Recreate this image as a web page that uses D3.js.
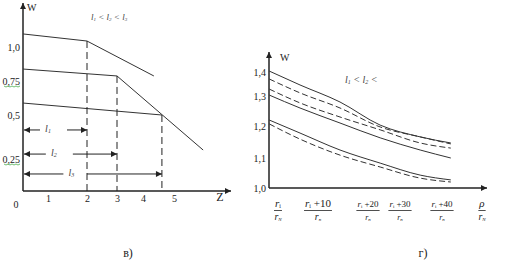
<!DOCTYPE html>
<html>
<head>
<meta charset="utf-8">
<script src="https://cdn.jsdelivr.net/npm/d3@7"></script>
<style>
  body { margin: 0; background: #fff; }
  svg text { font-family: "Liberation Serif", "DejaVu Serif", serif; }
</style>
</head>
<body>
<svg id="chart" width="508" height="264"></svg>
<script>
// ---- left panel (в): W vs Z ----
const zTicks = [1, 2, 3, 4, 5];
const wTicks = [0.25, 0.5, 0.75, 1.0];
const wTickLabels = ["0,25", "0,5", "0,75", "1,0"];
const curveL1 = [[0, 1.096], [2, 1.044], [4.35, 0.787]];
const curveL2 = [[0, 0.838], [3, 0.787], [5.94, 0.301]];
const curveL3 = [[0, 0.588], [4.61, 0.5]];
const breakZ = [2, 3, 4.61];
const breakW = [1.044, 0.787, 0.5];
const spanW = [0.415, 0.278, 0.133];
const spanNames = ["1", "2", "3"];
const spanLabelZ = [1, 1.15, 1.6];

// ---- right panel (г): W vs rho/rN ----
const rhoX = [-2.2, 5.5, 14.4, 23.8, 34.8, 42.2];
const solidA = [1.404, 1.346, 1.28, 1.203, 1.166, 1.147];
const dashB = [1.371, 1.313, 1.26, 1.197, 1.166, 1.144];
const dashC = [1.329, 1.277, 1.23, 1.188, 1.147, 1.131];
const solidD = [1.304, 1.26, 1.21, 1.163, 1.125, 1.1];
const solidE = [1.22, 1.178, 1.125, 1.083, 1.043, 1.027];
const dashF = [1.207, 1.159, 1.109, 1.07, 1.033, 1.02];
const rTicks = [1.0, 1.1, 1.2, 1.3, 1.4];
const rTickLabels = ["1,0", "1,1", "1,2", "1,3", "1,4"];
const rhoTicks = [0, 10, 20, 30, 40];
const rhoNums = ["", "+10", "+20", "+30", "+40"];

const svg = d3.select("#chart");
const ink = "#222";

// arrow markers
const defs = svg.append("defs");
defs.append("marker")
  .attr("id", "arr").attr("viewBox", "0 0 10 10")
  .attr("refX", 10).attr("refY", 5)
  .attr("markerWidth", 7).attr("markerHeight", 6)
  .attr("markerUnits", "userSpaceOnUse")
  .attr("orient", "auto-start-reverse")
  .append("path").attr("d", "M0,0L10,5L0,10z").attr("fill", ink);

// hand drawn axes -> piecewise scales
const xL = d3.scaleLinear().domain([0, 1, 2, 3, 4, 5]).range([23, 48, 87, 117, 143, 174]);
const yL = d3.scaleLinear().domain([0, 0.25, 0.5, 0.75, 1.0]).range([191, 159, 115, 81, 47]);
const xR = d3.scaleLinear().domain([0, 10, 20, 30, 40, 50]).range([278, 318, 368, 400, 442, 482]);
const yR = d3.scaleLinear().domain([1.0, 1.1, 1.2, 1.3, 1.4]).range([188, 158, 126, 96, 72]);

// ===== left panel =====
const gL = svg.append("g");

gL.append("line")
  .attr("x1", xL(0)).attr("y1", yL(0)).attr("x2", xL(0)).attr("y2", 3)
  .attr("stroke", ink).attr("stroke-width", 1.5).attr("marker-end", "url(#arr)");
gL.append("line")
  .attr("x1", xL(0)).attr("y1", yL(0)).attr("x2", 231).attr("y2", yL(0))
  .attr("stroke", ink).attr("stroke-width", 1.5).attr("marker-end", "url(#arr)");

const axL = gL.append("g")
  .attr("transform", `translate(${xL(0)},0)`)
  .call(d3.axisLeft(yL).tickValues(wTicks).tickSize(0).tickPadding(3)
    .tickFormat((d, i) => wTickLabels[i]));
axL.attr("font-family", null).attr("font-size", null);
axL.select(".domain").remove();
axL.selectAll("text").attr("font-size", 10).attr("fill", ink);

// green spell-check underline in the source
[0.25, 0.75].forEach(v => {
  gL.append("path")
    .attr("d", `M4,${yL(v) + 5}` + d3.range(8).map(i => `l2,${i % 2 ? -1 : 1}`).join(""))
    .attr("fill", "none").attr("stroke", "#4caf50").attr("stroke-width", 0.8);
});

const axB = gL.append("g")
  .attr("transform", `translate(0,${yL(0)})`)
  .call(d3.axisBottom(xL).tickValues(zTicks).tickSize(0).tickPadding(4).tickFormat(d3.format("d")));
axB.attr("font-family", null).attr("font-size", null);
axB.select(".domain").remove();
axB.selectAll("text").attr("font-size", 10).attr("fill", ink);

gL.append("text").attr("x", 16).attr("y", 208).attr("font-size", 10)
  .attr("text-anchor", "middle").attr("fill", ink).text("0");
gL.append("text").attr("x", 220).attr("y", 201).attr("font-size", 12)
  .attr("text-anchor", "middle").attr("fill", ink).text("Z");
gL.append("text").attr("x", 27).attr("y", 11).attr("font-size", 10).attr("fill", ink).text("W");

const lineL = d3.line().x(d => xL(d[0])).y(d => yL(d[1]));
[curveL1, curveL2, curveL3].forEach(c => {
  gL.append("path").attr("d", lineL(c))
    .attr("fill", "none").attr("stroke", "#333").attr("stroke-width", 1);
});

breakZ.forEach((z, i) => {
  gL.append("line")
    .attr("x1", xL(z)).attr("x2", xL(z)).attr("y1", yL(breakW[i])).attr("y2", yL(0))
    .attr("stroke", ink).attr("stroke-width", 1).attr("stroke-dasharray", "7,4");
});

// l1, l2, l3 dimension arrows
spanW.forEach((w, i) => {
  const y = yL(w), lx = xL(spanLabelZ[i]);
  const rightStart = i === 2 ? xL(2) : lx + 19;
  gL.append("line").attr("x1", lx - 8).attr("x2", xL(0) + 1).attr("y1", y).attr("y2", y)
    .attr("stroke", ink).attr("stroke-width", 1).attr("marker-end", "url(#arr)");
  gL.append("line").attr("x1", rightStart).attr("x2", xL(breakZ[i])).attr("y1", y).attr("y2", y)
    .attr("stroke", ink).attr("stroke-width", 1).attr("marker-end", "url(#arr)");
  const t = gL.append("text").attr("x", lx).attr("y", y + 2).attr("font-size", 10)
    .attr("font-style", "italic").attr("text-anchor", "middle").attr("fill", "#444");
  t.append("tspan").text("l");
  t.append("tspan").attr("font-size", 6).attr("dy", 1).text(spanNames[i]);
});

const ttl = gL.append("text").attr("x", 91).attr("y", 20).attr("font-size", 9)
  .attr("font-style", "italic").attr("fill", "#444");
ttl.append("tspan").text("l");
ttl.append("tspan").attr("font-size", 5).attr("dy", 1).text("1");
ttl.append("tspan").attr("dy", -1).text(" < l");
ttl.append("tspan").attr("font-size", 5).attr("dy", 1).text("2");
ttl.append("tspan").attr("dy", -1).text(" < l");
ttl.append("tspan").attr("font-size", 5).attr("dy", 1).text("3");

gL.append("text").attr("x", 128).attr("y", 257).attr("font-size", 12)
  .attr("text-anchor", "middle").attr("fill", ink).text("в)");

// ===== right panel =====
const gR = svg.append("g");

gR.append("line")
  .attr("x1", xR.range()[0] - 9).attr("y1", yR(1.0)).attr("x2", xR.range()[0] - 9).attr("y2", 52)
  .attr("stroke", ink).attr("stroke-width", 1.5).attr("marker-end", "url(#arr)");
gR.append("line")
  .attr("x1", xR.range()[0] - 9).attr("y1", yR(1.0)).attr("x2", 487).attr("y2", yR(1.0))
  .attr("stroke", ink).attr("stroke-width", 1.5).attr("marker-end", "url(#arr)");

const axR = gR.append("g")
  .attr("transform", `translate(${xR(0) - 9},0)`)
  .call(d3.axisLeft(yR).tickValues(rTicks).tickSize(0).tickPadding(3)
    .tickFormat((d, i) => rTickLabels[i]));
axR.attr("font-family", null).attr("font-size", null);
axR.select(".domain").remove();
axR.selectAll("text").attr("font-size", 10).attr("fill", ink);

gR.append("text").attr("x", 280).attr("y", 61).attr("font-size", 10).attr("fill", ink).text("W");

const lineR = d3.line().x((d, i) => xR(rhoX[i])).y(d => yR(d)).curve(d3.curveMonotoneX);
[[solidA, null], [dashB, "6,3"], [dashC, "6,3"], [solidD, null], [solidE, null], [dashF, "6,3"]]
  .forEach(([s, dash]) => {
    gR.append("path").attr("d", lineR(s))
      .attr("fill", "none").attr("stroke", "#333").attr("stroke-width", 1)
      .attr("stroke-dasharray", dash);
  });

const ttlR = gR.append("text").attr("x", 345).attr("y", 83).attr("font-size", 10)
  .attr("font-style", "italic").attr("fill", "#444");
ttlR.append("tspan").text("l");
ttlR.append("tspan").attr("font-size", 6).attr("dy", 1).text("1");
ttlR.append("tspan").attr("dy", -1).text(" < l");
ttlR.append("tspan").attr("font-size", 6).attr("dy", 1).text("2");
ttlR.append("tspan").attr("dy", -1).text(" <");

// fraction labels under the x axis
const frac = gR.selectAll(".frac").data(rhoTicks.concat([50])).enter().append("g")
  .attr("class", "frac").attr("transform", d => `translate(${xR(d)},0)`);
frac.each(function(d, i) {
  const g = d3.select(this);
  const isRho = i === rhoTicks.length;
  const small = i >= 2 && !isRho;
  const num = g.append("text").attr("y", 207).attr("text-anchor", "middle")
    .attr("font-size", small ? 9 : 11).attr("fill", ink);
  if (isRho) {
    num.append("tspan").attr("font-style", "italic").text("ρ");
  } else {
    num.append("tspan").attr("font-style", "italic").text("r");
    num.append("tspan").attr("font-size", small ? 5 : 6).attr("dy", 1).text("i");
    if (rhoNums[i]) num.append("tspan").attr("dy", -1).text(" " + rhoNums[i]);
  }
  const w = num.node().getComputedTextLength();
  g.append("line").attr("x1", -w / 2 - 1).attr("x2", w / 2 + 1).attr("y1", 210.5).attr("y2", 210.5)
    .attr("stroke", ink).attr("stroke-width", 0.8);
  const den = g.append("text").attr("y", 220).attr("text-anchor", "middle")
    .attr("font-size", small ? 8 : 10).attr("font-style", "italic").attr("fill", ink);
  den.append("tspan").text("r");
  den.append("tspan").attr("font-size", 5).attr("dy", 1)
    .text(i === 0 || isRho ? "N" : "n");
});

gR.append("text").attr("x", 423).attr("y", 257).attr("font-size", 12)
  .attr("text-anchor", "middle").attr("fill", ink).text("г)");
</script>
</body>
</html>
